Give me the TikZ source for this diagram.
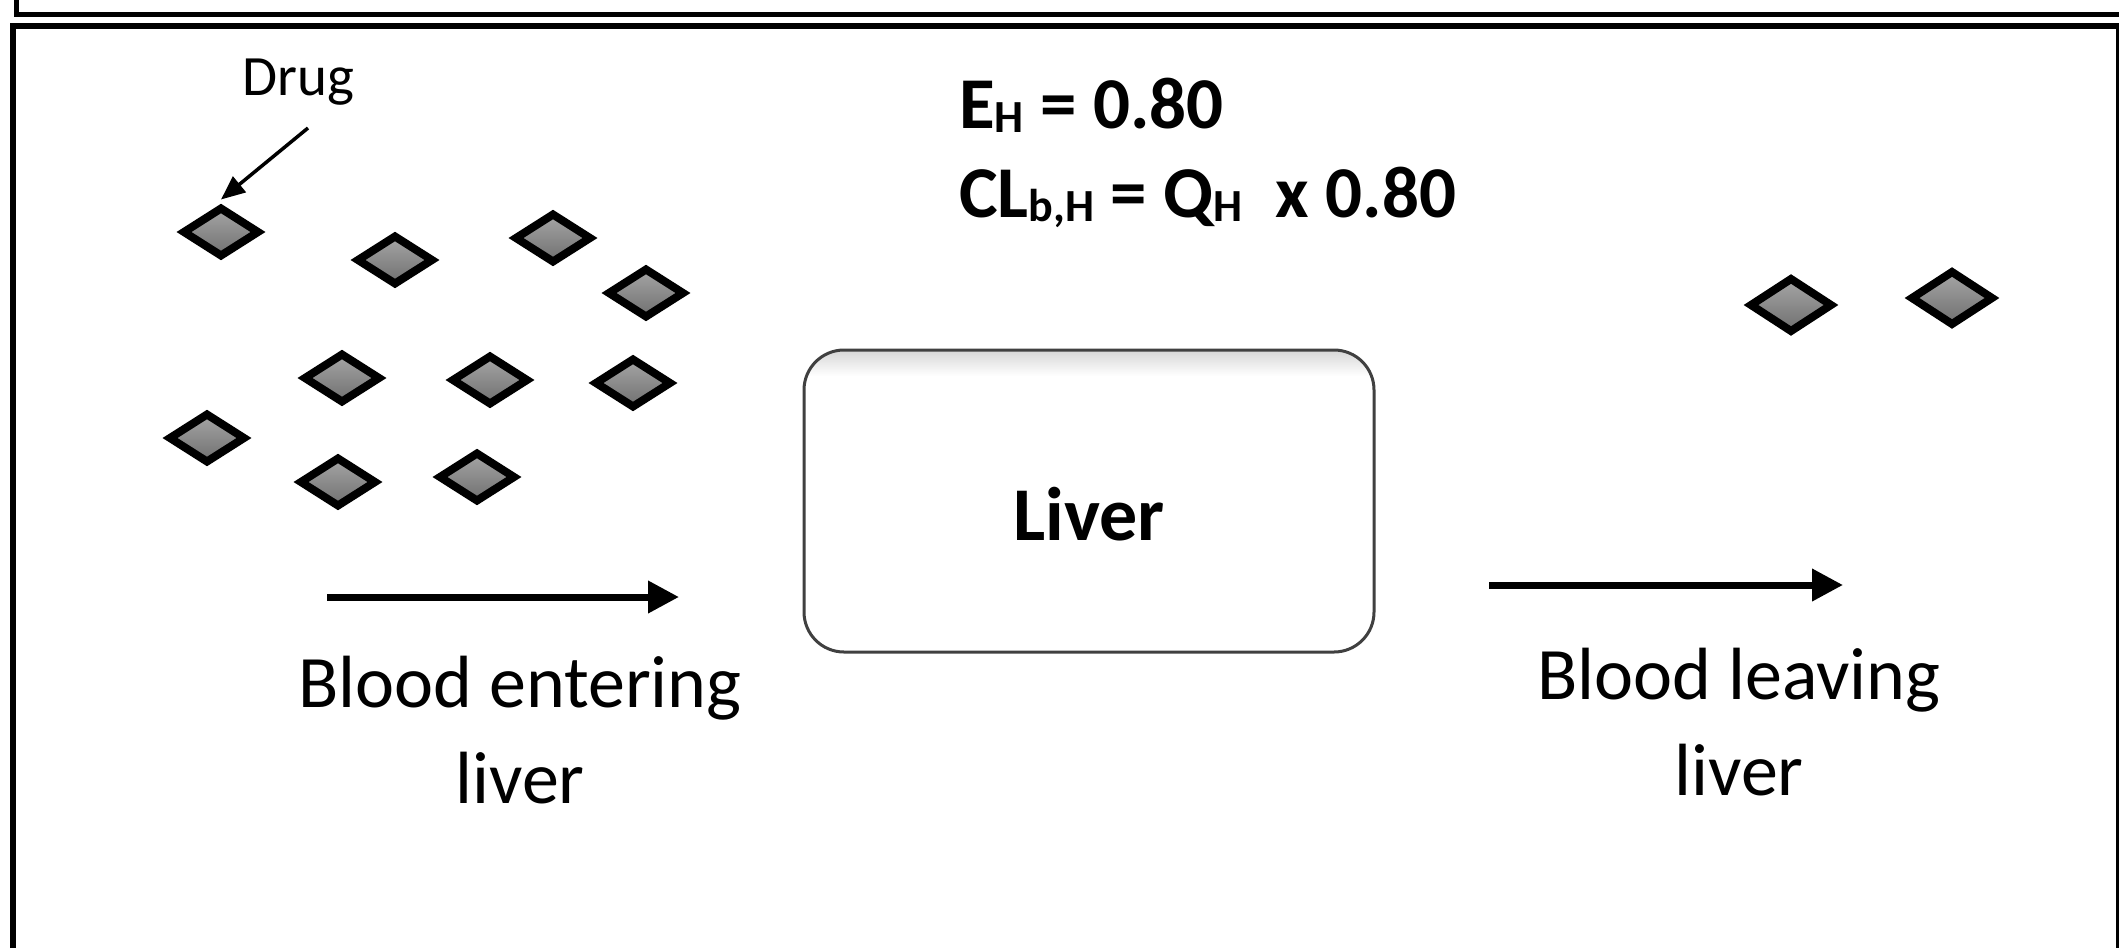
\documentclass[tikz,border=0pt]{standalone}
\usepackage{fontspec}
\setmainfont{Carlito}
\usetikzlibrary{arrows.meta,shapes.geometric,backgrounds}
\definecolor{dtop}{RGB}{165,165,165}
\definecolor{dbot}{RGB}{112,112,112}
\definecolor{boxline}{RGB}{64,64,64}
\newcommand{\mysub}[1]{\raisebox{-4pt}{\fontsize{46}{46}\selectfont #1}}
\tikzset{
  drug/.style={diamond, draw=black, line width=8pt, miter limit=10, line join=miter,
    top color=dtop, bottom color=dbot, inner sep=0pt, outer sep=0pt,
    minimum width=74pt, minimum height=47pt},
  bigdrug/.style={drug, minimum width=80pt, minimum height=52pt},
  flow/.style={line width=7pt, -{Triangle[length=31pt,width=31pt]}},
  pointer/.style={line width=3.5pt, -{Triangle[length=24pt,width=20pt]}},
  lbl/.style={font=\fontsize{74}{96}\selectfont, align=center, inner sep=0pt},
  eq/.style={font=\bfseries\fontsize{73}{85}\selectfont, anchor=base west, inner sep=0pt},
  frame/.style={line join=miter, line cap=butt},
}
\begin{document}
\begin{tikzpicture}[x=1pt,y=-1pt]
\useasboundingbox (0,0) rectangle (2119,948);
\fill[white] (0,0) rectangle (2119,948);
% frame
\draw[frame, line width=5pt] (16,0) -- (16,14) -- (2119,14);
\draw[frame, line width=6pt] (13,948) -- (13,26) -- (2119,26);
\draw[frame, line width=3pt] (2117,26) -- (2117,948);
% drug molecules entering
\node[drug] (d1) at (221,232) {};
\node[drug] (d2) at (395,260) {};
\node[drug] (d3) at (553,238) {};
\node[drug] (d4) at (646,293) {};
\node[drug] (d5) at (342,378) {};
\node[drug] (d6) at (490,380) {};
\node[drug] (d7) at (633,383) {};
\node[drug] (d8) at (207,438) {};
\node[drug] (d9) at (338,482) {};
\node[drug] (d10) at (477,477) {};
% drug molecules leaving
\node[bigdrug] (r1) at (1791,305) {};
\node[bigdrug] (r2) at (1952,298) {};
% drug label
\node[font=\fontsize{57}{68}\selectfont, anchor=base, inner sep=0pt] (druglbl) at (298,95) {Drug};
\coordinate (ptail) at (308,128);
\draw[pointer] (ptail) -- ([yshift=9pt]d1.north);
% equations
\node[eq] (eh) at (959,128) {E\mysub{H} = 0.80};
\node[eq] (cl) at (959,217) {CL\mysub{b,H} = Q\mysub{H}\ \ x 0.80};
% liver
\node[fill=white, rounded corners=40pt, minimum width=570pt, minimum height=302pt,
      text height=78pt, text depth=0pt, inner sep=0pt, outer sep=0pt,
      font=\bfseries\fontsize{76}{90}\selectfont] (liver) at (1089,501) {Liver};
\begin{scope}[on background layer]
  \foreach \i in {1,...,9}
    \fill[black, opacity=0.022, rounded corners=40pt]
      ([xshift=-\i pt, yshift=2pt-0.5*\i pt]liver.north west) rectangle
      ([xshift=\i pt, yshift=-4pt-1.6*\i pt]liver.south east);
\end{scope}
\begin{scope}
  \clip[rounded corners=40pt] (liver.north west) rectangle (liver.south east);
  \shade[top color=black!16, bottom color=white] (liver.north west) rectangle ([yshift=-26pt]liver.north east);
\end{scope}
\draw[boxline, line width=3pt, rounded corners=40pt] (liver.north west) rectangle (liver.south east);
% flow arrows
\coordinate (inA) at (327,597);
\coordinate (inB) at (679,597);
\draw[flow] (inA) -- (inB);
\coordinate (outA) at (1489,585);
\coordinate (outB) at (1843,585);
\draw[flow] (outA) -- (outB);
% labels (base anchor = baseline of the last line)
\node[lbl, anchor=base] (entering) at (520,803) {Blood entering\\liver};
\node[lbl, anchor=base] (leaving) at (1739,795) {Blood leaving\\liver};
\end{tikzpicture}
\end{document}
